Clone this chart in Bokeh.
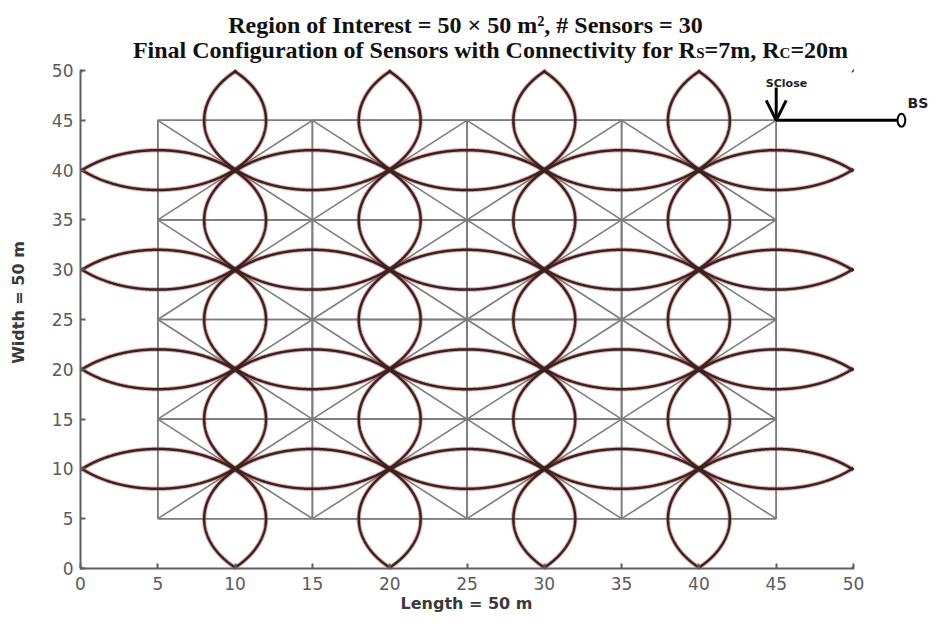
import numpy as np
from bokeh.plotting import figure
from bokeh.models import Range1d, FixedTicker, Label, Arrow, OpenHead
from bokeh.embed import file_html
from bokeh.resources import INLINE

# ---------------- data ----------------
sensor_x = [5, 15, 25, 35, 45, 5, 15, 25, 35, 45, 5, 15, 25, 35, 45,
            5, 15, 25, 35, 45, 5, 15, 25, 35, 45]
sensor_y = [5, 5, 5, 5, 5, 15, 15, 15, 15, 15, 25, 25, 25, 25, 25,
            35, 35, 35, 35, 35, 45, 45, 45, 45, 45]
sensing_radius = 7.0
comm_radius = 20.0
region_size = 50
sclose = [45, 45]
bs = [53.1, 45]
x_ticks = [0, 5, 10, 15, 20, 25, 30, 35, 40, 45, 50]
y_ticks = [0, 5, 10, 15, 20, 25, 30, 35, 40, 45, 50]
title_1 = "Region of Interest = 50 \u00d7 50 m\u00b2,  # Sensors = 30"
title_2_parts = [("Final Configuration of Sensors with Connectivity for R", False),
                 ("S", True), ("=7m, R", False), ("C", True), ("=20m", False)]
x_label = "Length = 50 m"
y_label = "Width = 50 m"

# ---------------- geometry (canvas pixels) ----------------
W, H = 930, 615
OX, OY = 80, 568           # canvas position of data origin
PX_X = 773 / 50.0          # pixels per x unit
PX_Y = 498 / 50.0          # pixels per y unit


def X(sx):
    return (sx - OX) / PX_X


def Y(sy):
    return (OY - sy) / PX_Y


p = figure(width=W, height=H, x_range=Range1d(X(0), X(W)), y_range=Range1d(Y(H), Y(0)),
           output_backend="svg", toolbar_location=None,
           min_border_left=0, min_border_right=0, min_border_top=0, min_border_bottom=0)
p.grid.visible = False
p.outline_line_color = None
p.background_fill_color = "white"

# connectivity lines
ex, ey = [], []
n = len(sensor_x)
for i in range(n):
    for j in range(i + 1, n):
        d = np.hypot(sensor_x[i] - sensor_x[j], sensor_y[i] - sensor_y[j])
        if d <= comm_radius + 1e-9:
            ex.append([sensor_x[i], sensor_x[j]])
            ey.append([sensor_y[i], sensor_y[j]])
p.multi_line(ex, ey, line_color="#7d7d7d", line_width=1.6)

# sensing circles (clipped to region)
th = np.linspace(0, 2 * np.pi, 900)
cxs, cys = [], []
for cx, cy in zip(sensor_x, sensor_y):
    xx = cx + sensing_radius * np.cos(th)
    yy = cy + sensing_radius * np.sin(th)
    m = (xx < 0) | (xx > region_size) | (yy < 0) | (yy > region_size)
    xx = xx.copy(); yy = yy.copy()
    xx[m] = np.nan; yy[m] = np.nan
    cxs.append(xx); cys.append(yy)
p.multi_line(cxs, cys, line_color="#c24a4a", line_width=4.5, line_alpha=0.45)
p.multi_line(cxs, cys, line_color="#3a2222", line_width=2.5)

# SClose -> BS link
p.line([sclose[0], bs[0] - 0.27], [sclose[1], bs[1]], line_color="black", line_width=3)
p.ellipse(x=[bs[0]], y=[bs[1]], width=0.5, height=1.3, fill_color=None,
          line_color="black", line_width=2)
p.add_layout(Arrow(end=OpenHead(size=20, line_width=3, line_color="black"),
                   x_start=sclose[0], y_start=48.3, x_end=sclose[0], y_end=sclose[1],
                   line_width=3, line_color="black"))
p.add_layout(Label(x=X(786), y=Y(83), text="SClose", text_align="center",
                   text_baseline="alphabetic", text_font="DejaVu Sans",
                   text_font_style="bold", text_font_size="11px", text_color="#222222"))
p.add_layout(Label(x=X(907), y=Y(102), text="BS", text_align="left",
                   text_baseline="alphabetic", text_font="DejaVu Sans",
                   text_font_style="bold", text_font_size="14px", text_color="#222222"))

# axes (drawn at the data origin, inside the frame)
for ax in (p.xaxis, p.yaxis):
    ax.fixed_location = 0
    ax.axis_line_color = "#606060"
    ax.axis_line_width = 2
    ax.major_tick_in = 5
    ax.major_tick_out = 0
    ax.major_tick_line_color = "#606060"
    ax.major_tick_line_width = 2
    ax.minor_tick_line_color = None
    ax.major_label_text_font = "DejaVu Sans"
    ax.major_label_text_font_size = "17px"
    ax.major_label_text_color = "#5a5a5a"
p.xaxis.ticker = FixedTicker(ticks=x_ticks)
p.yaxis.ticker = FixedTicker(ticks=y_ticks)
p.xaxis.bounds = (0, region_size)
p.yaxis.bounds = (0, region_size)
p.xaxis.major_label_standoff = 8
p.yaxis.major_label_standoff = 7

p.add_layout(Label(x=X(466), y=Y(603), text=x_label, text_align="center",
                   text_baseline="alphabetic", text_font="DejaVu Sans", text_font_style="bold",
                   text_font_size="16px", text_color="#3a3a3a"))
p.add_layout(Label(x=X(18), y=Y(302), text=y_label, text_align="center", angle=np.pi / 2,
                   text_baseline="middle", text_font="DejaVu Sans", text_font_style="bold",
                   text_font_size="16px", text_color="#3a3a3a"))

# titles
TFONT = "Liberation Serif"
TS, SS = 24, 15
p.add_layout(Label(x=X(468), y=Y(24), text=title_1, text_align="center",
                   text_baseline="alphabetic", text_font=TFONT, text_font_style="bold",
                   text_font_size=f"{TS}px", text_color="#111111"))

widths = {' ': 250, ',': 250, '=': 570, '0': 500, '2': 500, '7': 500,
          'C': 722, 'F': 611, 'R': 722, 'S': 556, 'a': 500, 'c': 444, 'e': 444,
          'f': 333, 'g': 500, 'h': 556, 'i': 278, 'l': 278, 'm': 833, 'n': 556,
          'o': 500, 'r': 444, 's': 389, 't': 333, 'u': 556, 'v': 500, 'w': 722,
          'y': 500}


def tw(s, size):
    return sum(widths.get(c, 500) for c in s) / 1000 * size


total = sum(tw(t, SS if sub else TS) for t, sub in title_2_parts)
sx = 490 - total / 2
for t, sub in title_2_parts:
    size = SS if sub else TS
    p.add_layout(Label(x=X(sx), y=Y(49 + (3 if sub else 0)), text=t, text_align="left",
                       text_baseline="alphabetic", text_font=TFONT, text_font_style="bold",
                       text_font_size=f"{size}px", text_color="#111111"))
    sx += tw(t, size)

open("out.html", "w").write(file_html(p, INLINE))
